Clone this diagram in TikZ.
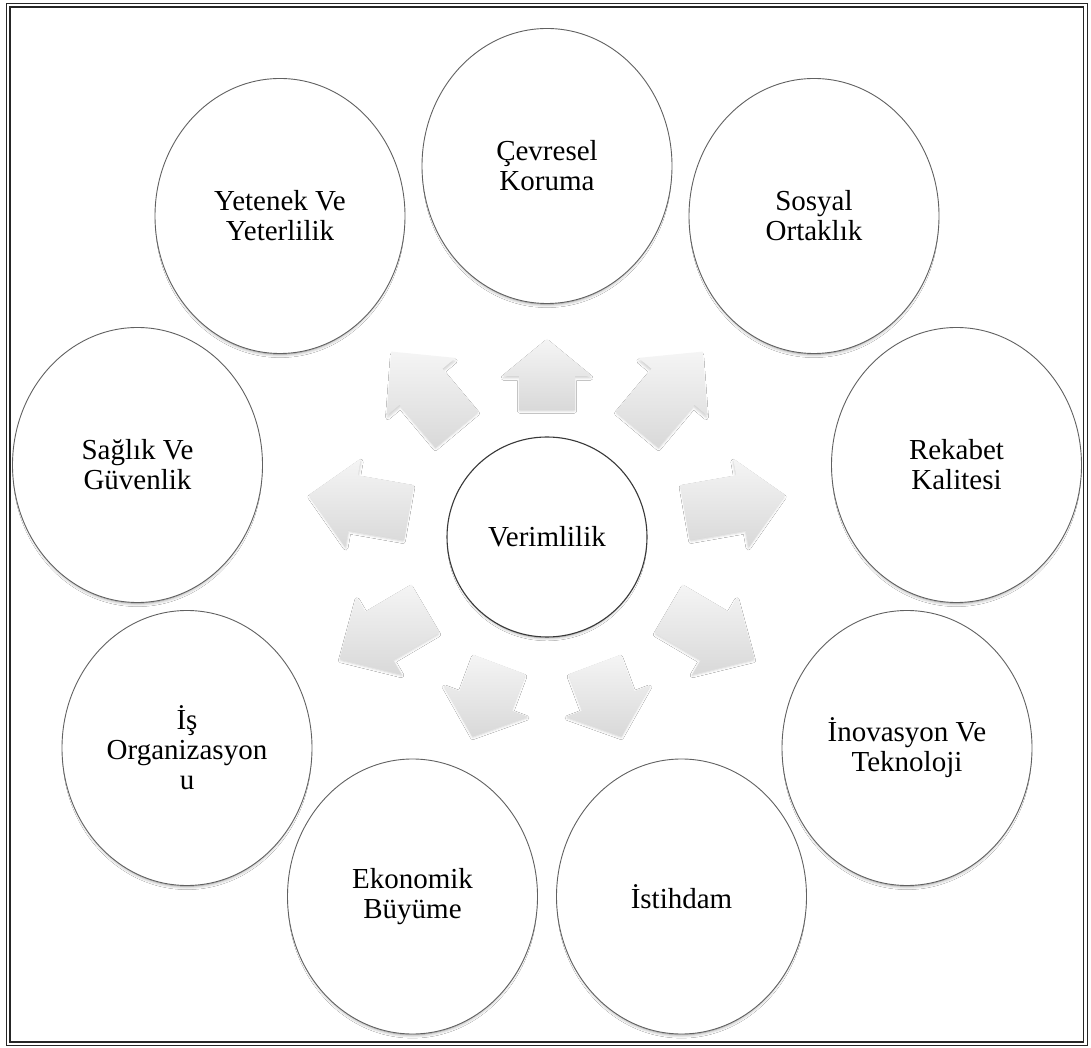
\documentclass[tikz,border=0pt]{standalone}
\usepackage{fontspec}
\setmainfont{Liberation Serif}
\usetikzlibrary{shapes.geometric,calc,shadows.blur}

\tikzset{
  leaf/.style={ellipse, draw=black!62, line width=0.9pt, fill=white,
    minimum width=250pt, minimum height=275pt, inner sep=0pt, align=center,
    font=\fontsize{29}{30}\selectfont,
    blur shadow={shadow xshift=0pt, shadow yshift=-5pt, shadow scale=0.97,
      shadow blur radius=3.5pt, shadow blur steps=8, shadow opacity=45}},
  hub/.style={circle, draw=black!78, line width=1.1pt, fill=white,
    minimum size=200pt, inner sep=0pt, align=center,
    font=\fontsize{29}{30}\selectfont,
    blur shadow={shadow xshift=0pt, shadow yshift=-4pt, shadow scale=0.97,
      shadow blur radius=3pt, shadow blur steps=8, shadow opacity=40}},
  blockfill/.style={top color=black!4, bottom color=black!15,
    blur shadow={shadow xshift=0pt, shadow yshift=-2pt, shadow scale=0.97,
      shadow blur radius=2.5pt, shadow opacity=20}},
  frameline/.style={draw=black!85, line width=1.1pt}
}

% block arrow from the hub: angle, start radius, tip radius, head length
\newcommand{\radarrow}[4]{%
  \path[blockfill]
    ($(c0.center)+(#1:#2)+({#1+90}:28)$) --
    ($(c0.center)+(#1:{#3-#4})+({#1+90}:28)$) --
    ($(c0.center)+(#1:{#3-#4})+({#1+90}:45)$) --
    ($(c0.center)+(#1:#3)$) --
    ($(c0.center)+(#1:{#3-#4})+({#1-90}:45)$) --
    ($(c0.center)+(#1:{#3-#4})+({#1-90}:28)$) --
    ($(c0.center)+(#1:#2)+({#1-90}:28)$) -- cycle;}

\begin{document}
\begin{tikzpicture}[x=1pt,y=1pt]
  \useasboundingbox (0,0) rectangle (1091,1047);
  \fill[white] (0,0) rectangle (1091,1047);

  % double frame
  \draw[frameline] (6.5,1.5) rectangle (1087.5,1043.5);
  \draw[frameline] (10,5) rectangle (1083.5,1040);

  % hub
  \node[hub] (c0) at (547,510) {Verimlilik};

  % radiating block arrows
  \radarrow{90}{127}{198}{37}
  \radarrow{50}{140}{242}{46}
  \radarrow{130}{140}{242}{46}
  \radarrow{10}{140}{242}{45}
  \radarrow{170}{140}{242}{45}
  \radarrow{-30.5}{141}{241}{46}
  \radarrow{210.5}{141}{241}{46}
  \radarrow{-69.5}{136}{213}{38}
  \radarrow{249.5}{136}{213}{38}

  % surrounding topics
  \node[leaf] (n1) at (547,881)   {Çevresel\\Koruma};
  \node[leaf] (n2) at (814,831)   {Sosyal\\Ortaklık};
  \node[leaf] (n3) at (956.5,582) {Rekabet\\Kalitesi};
  \node[leaf] (n4) at (907,299)   {İnovasyon Ve\\Teknoloji};
  \node[leaf] (n5) at (681.5,150.5) {İstihdam};
  \node[leaf] (n6) at (412.5,150.5) {Ekonomik\\Büyüme};
  \node[leaf] (n7) at (187,299)   {İş\\Organizasyon\\u};
  \node[leaf] (n8) at (137.5,582) {Sağlık Ve\\Güvenlik};
  \node[leaf] (n9) at (280,831)   {Yetenek Ve\\Yeterlilik};
\end{tikzpicture}
\end{document}
